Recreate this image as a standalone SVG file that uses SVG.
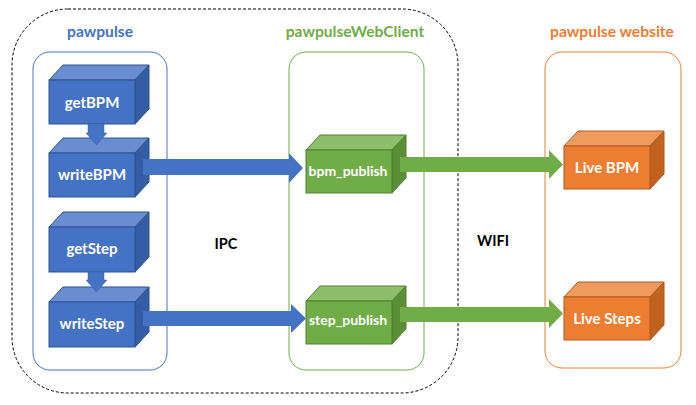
<svg xmlns="http://www.w3.org/2000/svg" width="696" height="405" viewBox="0 0 696 405">
<style>
text{font-family:Lato,"Open Sans","Liberation Sans",sans-serif;font-weight:bold;text-anchor:middle;dominant-baseline:central}
.lbl{font-size:15.6px}
.mid{font-size:14.5px}
.ct{font-size:15px;fill:#fff}
.g .ct{font-size:14px}
.b .f{fill:#4472C4;stroke:#2F528F}.b .t{fill:#6A8CD0;stroke:#2F528F}.b .s{fill:#345DA6;stroke:#2F528F}
.g .f{fill:#70AD47;stroke:#507E32}.g .t{fill:#8DBF6B;stroke:#507E32}.g .s{fill:#5A8F37;stroke:#507E32}
.o .f{fill:#ED7D31;stroke:#AE5A21}.o .t{fill:#F19A5D;stroke:#AE5A21}.o .s{fill:#C0631F;stroke:#AE5A21}
.f,.t,.s{stroke-width:1}
</style>
<defs>
<path id="top" d="M0 0 L14 -15 L100 -15 L86 0 Z"/>
<path id="side" d="M86 0 L100 -15 L100 28 L86 43 Z"/>
</defs>
<rect x="12" y="9" width="446" height="384" rx="56" ry="56" fill="none" stroke="#000" stroke-width="1" stroke-dasharray="3,2"/>
<g id="pawpulse-group">
<rect x="33" y="52" width="134" height="318" rx="17" fill="none" stroke="#4472C4"/>
<text class="lbl" x="100" y="31" fill="#4472C4">pawpulse</text>
</g>
<g id="webclient-group">
<rect x="289" y="52" width="135" height="318" rx="17" fill="none" stroke="#70AD47"/>
<text class="lbl" x="355" y="31" fill="#70AD47">pawpulseWebClient</text>
</g>
<g id="website-group">
<rect x="545" y="52" width="136" height="316" rx="17" fill="none" stroke="#ED7D31"/>
<text class="lbl" x="612" y="31" fill="#ED7D31">pawpulse website</text>
</g>
<g id="getBPM" class="b" transform="translate(49,80)">
<use href="#top" class="t"/><path class="s" d="M86 0 L100 -15 L100 29 L86 44 Z"/><rect class="f" width="86" height="44"/>
<text class="ct" x="43" y="22">getBPM</text>
</g>
<g id="writeBPM" class="b" transform="translate(49,153)">
<use href="#top" class="t"/><path class="s" d="M86 0 L100 -15 L100 29 L86 44 Z"/><rect class="f" width="86" height="44"/>
<text class="ct" x="43" y="21">writeBPM</text>
</g>
<g id="getStep" class="b" transform="translate(49,227)">
<use href="#top" class="t"/><path class="s" d="M86 0 L100 -15 L100 30 L86 45 Z"/><rect class="f" width="86" height="45"/>
<text class="ct" x="43" y="21">getStep</text>
</g>
<g id="writeStep" class="b" transform="translate(49,302)">
<use href="#top" class="t"/><path class="s" d="M86 0 L100 -15 L100 30 L86 45 Z"/><rect class="f" width="86" height="45"/>
<text class="ct" x="43" y="21">writeStep</text>
</g>
<g id="bpm_publish" class="g" transform="translate(306,150)">
<use href="#top" class="t"/><use href="#side" class="s"/><rect class="f" width="86" height="43"/>
<text class="ct" x="42" y="20">bpm_publish</text>
</g>
<g id="step_publish" class="g" transform="translate(306,301)">
<use href="#top" class="t"/><use href="#side" class="s"/><rect class="f" width="86" height="43"/>
<text class="ct" x="42" y="18">step_publish</text>
</g>
<g id="liveBPM" class="o" transform="translate(564,146)">
<use href="#top" class="t"/><use href="#side" class="s"/><rect class="f" width="86" height="43"/>
<text class="ct" x="43" y="21">Live BPM</text>
</g>
<g id="liveSteps" class="o" transform="translate(564,297)">
<use href="#top" class="t"/><use href="#side" class="s"/><rect class="f" width="86" height="43"/>
<text class="ct" x="43" y="21">Live Steps</text>
</g>
<g id="connectors">
<path d="M88 124 H104 V133 H107 L96.5 145 L86 133 H88 Z" fill="#4472C4" stroke="#3B66B3" stroke-width="0.5"/>
<path d="M88 272 H104 V280 H107 L96.5 292 L86 280 H88 Z" fill="#4472C4" stroke="#3B66B3" stroke-width="0.5"/>
<path d="M143 159 H289 V153 L303 168 L289 183 V175 H143 Z" fill="#4472C4"/>
<path d="M143 311 H291 V304 L306 318.5 L291 333 V326 H143 Z" fill="#4472C4"/>
<path d="M400 157 H549 V150 L563 164.5 L549 179 V172 H400 Z" fill="#70AD47"/>
<path d="M400 307 H549 V299 L563 313.5 L549 328 V322 H400 Z" fill="#70AD47"/>
</g>
<text class="mid" x="226" y="243" fill="#000">IPC</text>
<text class="mid" x="493" y="240" fill="#000">WIFI</text>
</svg>
